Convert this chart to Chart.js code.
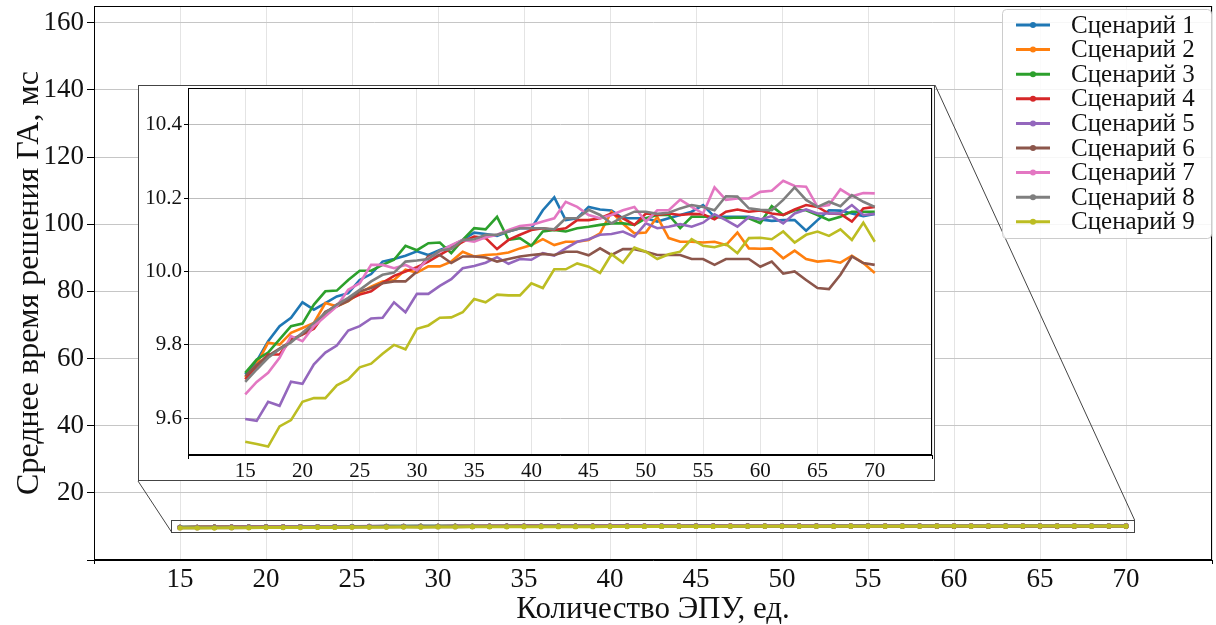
<!DOCTYPE html>
<html>
<head>
<meta charset="utf-8">
<script src="https://cdn.jsdelivr.net/npm/chart.js@4"></script>
<style>
  html, body { margin: 0; padding: 0; background: #fff; }
  #wrap { position: relative; width: 1216px; height: 625px; }
  #main { position: absolute; left: 0; top: 0; }
  #insetBox { position: absolute; left: 138px; top: 85px; width: 797px; height: 396px;
              background: #fff; border: 1px solid #444; box-sizing: border-box; }
  #inset { display: block; }
</style>
</head>
<body>
<div id="wrap">
  <canvas id="main" width="1216" height="625"></canvas>
  <div id="insetBox"><canvas id="inset" width="795" height="394"></canvas></div>
</div>
<script>
// number of power units, 15..70
const epu = [15, 16, 17, 18, 19, 20, 21, 22, 23, 24, 25, 26, 27, 28, 29, 30, 31, 32, 33, 34,
  35, 36, 37, 38, 39, 40, 41, 42, 43, 44, 45, 46, 47, 48, 49, 50, 51, 52, 53, 54,
  55, 56, 57, 58, 59, 60, 61, 62, 63, 64, 65, 66, 67, 68, 69, 70];

const names = ["Сценарий 1", "Сценарий 2", "Сценарий 3", "Сценарий 4", "Сценарий 5",
  "Сценарий 6", "Сценарий 7", "Сценарий 8", "Сценарий 9"];

const colors = ["#1f77b4", "#ff7f0e", "#2ca02c", "#d62728", "#9467bd",
  "#8c564b", "#e377c2", "#7f7f7f", "#bcbd22"];

// mean GA solve time, ms
const s1 = [9.720, 9.756, 9.810, 9.851, 9.874, 9.916, 9.896, 9.914, 9.932, 9.941,
  9.977, 9.993, 10.027, 10.034, 10.043, 10.055, 10.045, 10.059, 10.070, 10.086,
  10.106, 10.102, 10.097, 10.109, 10.118, 10.118, 10.167, 10.202, 10.140, 10.145,
  10.176, 10.169, 10.166, 10.145, 10.145, 10.145, 10.136, 10.145, 10.154, 10.163,
  10.181, 10.149, 10.149, 10.149, 10.149, 10.142, 10.138, 10.140, 10.140, 10.111,
  10.140, 10.167, 10.166, 10.158, 10.151, 10.157];
const s2 = [9.711, 9.747, 9.806, 9.801, 9.833, 9.846, 9.860, 9.914, 9.905, 9.919,
  9.941, 9.959, 9.973, 9.977, 10.005, 9.997, 10.014, 10.014, 10.027, 10.054,
  10.041, 10.045, 10.047, 10.052, 10.063, 10.072, 10.088, 10.072, 10.081, 10.081,
  10.086, 10.104, 10.163, 10.130, 10.104, 10.106, 10.149, 10.091, 10.081, 10.081,
  10.079, 10.081, 10.072, 10.106, 10.063, 10.062, 10.063, 10.036, 10.057, 10.034,
  10.027, 10.030, 10.024, 10.043, 10.023, 9.996];
const s3 = [9.724, 9.760, 9.779, 9.815, 9.851, 9.858, 9.910, 9.946, 9.948, 9.977,
  10.002, 10.002, 10.018, 10.032, 10.070, 10.058, 10.077, 10.079, 10.050, 10.086,
  10.118, 10.115, 10.149, 10.086, 10.091, 10.070, 10.109, 10.113, 10.109, 10.118,
  10.122, 10.127, 10.131, 10.131, 10.127, 10.145, 10.154, 10.154, 10.118, 10.149,
  10.149, 10.149, 10.145, 10.147, 10.145, 10.132, 10.178, 10.154, 10.167, 10.167,
  10.154, 10.140, 10.149, 10.163, 10.163, 10.163];
const s4 = [9.706, 9.742, 9.774, 9.774, 9.815, 9.828, 9.844, 9.887, 9.910, 9.923,
  9.937, 9.946, 9.969, 9.988, 10.000, 10.012, 10.027, 10.045, 10.063, 10.081,
  10.095, 10.091, 10.061, 10.086, 10.100, 10.113, 10.118, 10.113, 10.118, 10.140,
  10.140, 10.145, 10.158, 10.145, 10.127, 10.158, 10.154, 10.158, 10.154, 10.157,
  10.156, 10.142, 10.163, 10.169, 10.163, 10.166, 10.158, 10.154, 10.169, 10.181,
  10.176, 10.158, 10.157, 10.136, 10.172, 10.176];
const s5 = [9.598, 9.593, 9.645, 9.634, 9.700, 9.694, 9.747, 9.779, 9.798, 9.839,
  9.851, 9.872, 9.874, 9.916, 9.889, 9.939, 9.939, 9.961, 9.979, 10.009,
  10.015, 10.024, 10.039, 10.021, 10.034, 10.032, 10.050, 10.043, 10.063, 10.081,
  10.088, 10.100, 10.102, 10.109, 10.095, 10.131, 10.118, 10.122, 10.129, 10.122,
  10.133, 10.156, 10.140, 10.122, 10.148, 10.142, 10.151, 10.131, 10.158, 10.169,
  10.158, 10.158, 10.158, 10.181, 10.154, 10.157];
const s6 = [9.715, 9.745, 9.770, 9.790, 9.810, 9.830, 9.850, 9.890, 9.905, 9.920,
  9.946, 9.955, 9.968, 9.973, 9.973, 10.000, 10.042, 10.045, 10.023, 10.041,
  10.041, 10.038, 10.027, 10.034, 10.041, 10.045, 10.048, 10.045, 10.054, 10.054,
  10.044, 10.063, 10.045, 10.061, 10.061, 10.054, 10.045, 10.045, 10.045, 10.034,
  10.034, 10.018, 10.034, 10.034, 10.034, 10.013, 10.027, 9.994, 10.000, 9.977,
  9.955, 9.952, 9.991, 10.041, 10.023, 10.018];
const s7 = [9.665, 9.699, 9.724, 9.765, 9.824, 9.810, 9.851, 9.878, 9.905, 9.950,
  9.968, 10.018, 10.018, 10.009, 10.018, 10.003, 10.036, 10.054, 10.072, 10.086,
  10.081, 10.093, 10.100, 10.113, 10.124, 10.127, 10.136, 10.145, 10.190, 10.176,
  10.154, 10.145, 10.154, 10.167, 10.176, 10.136, 10.167, 10.167, 10.196, 10.176,
  10.158, 10.229, 10.195, 10.199, 10.199, 10.217, 10.220, 10.247, 10.233, 10.231,
  10.176, 10.181, 10.224, 10.205, 10.214, 10.213];
const s8 = [9.699, 9.733, 9.765, 9.788, 9.807, 9.833, 9.860, 9.887, 9.910, 9.928,
  9.950, 9.973, 9.991, 9.997, 10.027, 10.030, 10.034, 10.057, 10.061, 10.086,
  10.088, 10.100, 10.100, 10.109, 10.118, 10.118, 10.118, 10.115, 10.145, 10.145,
  10.168, 10.154, 10.131, 10.149, 10.163, 10.163, 10.157, 10.160, 10.172, 10.181,
  10.176, 10.167, 10.205, 10.204, 10.172, 10.168, 10.167, 10.195, 10.229, 10.195,
  10.176, 10.190, 10.178, 10.208, 10.190, 10.176];
const s9 = [9.536, 9.530, 9.523, 9.578, 9.595, 9.645, 9.655, 9.655, 9.690, 9.706,
  9.739, 9.749, 9.776, 9.800, 9.788, 9.844, 9.853, 9.874, 9.875, 9.889,
  9.925, 9.916, 9.937, 9.935, 9.935, 9.968, 9.955, 10.006, 10.006, 10.022,
  10.013, 9.996, 10.047, 10.024, 10.065, 10.054, 10.034, 10.047, 10.054, 10.088,
  10.070, 10.066, 10.075, 10.050, 10.091, 10.092, 10.088, 10.109, 10.079, 10.100,
  10.109, 10.097, 10.115, 10.086, 10.133, 10.081];

const series = [s1, s2, s3, s4, s5, s6, s7, s8, s9];

// axis ticks
const xTicks = [10, 15, 20, 25, 30, 35, 40, 45, 50, 55, 60, 65, 70, 75];
const yTicksMain = [0, 20, 40, 60, 80, 100, 120, 140, 160];
const yTicksInset = [9.6, 9.8, 10.0, 10.2, 10.4];

// zoomed window marked on the main plot
const zoomX = [14.5, 70.5];
const zoomY = [8.4, 11.9];

const serif = '"Liberation Serif", "Times New Roman", serif';
Chart.defaults.font.family = serif;
Chart.defaults.color = "#111";

function makeDatasets(lw, pr) {
  return series.map((s, i) => ({
    label: names[i],
    data: epu.map((x, j) => ({ x: x, y: s[j] })),
    borderColor: colors[i],
    backgroundColor: colors[i],
    pointBackgroundColor: colors[i],
    pointBorderWidth: 0,
    pointRadius: pr,
    borderWidth: lw,
    order: series.length - 1 - i,
    fill: false,
  }));
}

const edgeTick = (ctx) => (ctx.tick && (ctx.tick.value === 10 || ctx.tick.value === 75)) ? "#000" : "rgba(0,0,0,0)";

// keep the plot area exactly where the layout padding puts it
const noPadX = (w) => (s) => { s.height = w; s.paddingLeft = 0; s.paddingRight = 0; };
const noPadY = (w) => (s) => { s.width = w; s.paddingTop = 0; s.paddingBottom = 0; };

// full box around a plot area
const frame = {
  id: "frame",
  afterDraw(chart) {
    const { ctx, chartArea: a } = chart;
    ctx.save();
    ctx.strokeStyle = "#000";
    ctx.lineWidth = 1;
    ctx.strokeRect(a.left + 0.5, a.top + 0.5, a.right - a.left - 1, a.bottom - a.top - 1);
    ctx.restore();
  }
};

// zoom rectangle, connector lines and legend on the main chart
const zoomMark = {
  id: "zoomMark",
  afterDatasetsDraw(chart) {
    const { ctx, scales } = chart;
    const x0 = scales.x.getPixelForValue(zoomX[0]);
    const x1 = scales.x.getPixelForValue(zoomX[1]);
    const y0 = scales.y.getPixelForValue(zoomY[1]);
    const y1 = scales.y.getPixelForValue(zoomY[0]);
    const box = document.getElementById("insetBox");
    const bl = box.offsetLeft, bt = box.offsetTop;
    const br = bl + box.offsetWidth, bb = bt + box.offsetHeight;
    ctx.save();
    ctx.strokeStyle = "#444";
    ctx.lineWidth = 1;
    ctx.strokeRect(Math.round(x0) + 0.5, Math.round(y0) + 0.5, Math.round(x1 - x0), Math.round(y1 - y0));
    ctx.beginPath();
    ctx.moveTo(bl, bb);
    ctx.lineTo(x0, y1);
    ctx.moveTo(br, bt);
    ctx.lineTo(x1, y0);
    ctx.stroke();
    ctx.restore();
  },
  afterDraw(chart) {
    const { ctx, chartArea: a } = chart;
    const w = 209, h = 229;
    const left = a.right - 1 - w, top = a.top + 3;
    ctx.save();
    ctx.fillStyle = "rgba(255,255,255,0.85)";
    ctx.strokeStyle = "#cccccc";
    ctx.lineWidth = 1;
    ctx.beginPath();
    ctx.roundRect(left + 0.5, top + 0.5, w, h, 4);
    ctx.fill();
    ctx.stroke();
    ctx.font = "25px " + serif;
    ctx.textBaseline = "middle";
    names.forEach((n, i) => {
      const y = top + 16 + i * 24.6;
      ctx.strokeStyle = colors[i];
      ctx.lineWidth = 3;
      ctx.beginPath();
      ctx.moveTo(left + 14, y);
      ctx.lineTo(left + 48, y);
      ctx.stroke();
      ctx.fillStyle = colors[i];
      ctx.beginPath();
      ctx.arc(left + 31, y, 3, 0, Math.PI * 2);
      ctx.fill();
      ctx.fillStyle = "#111";
      ctx.fillText(n, left + 69, y + 1);
    });
    ctx.restore();
  }
};

new Chart(document.getElementById("main"), {
  type: "line",
  data: { datasets: makeDatasets(3, 2.6) },
  options: {
    responsive: false,
    animation: false,
    layout: { padding: { top: 6, right: 2, left: 0, bottom: 0 } },
    plugins: { legend: { display: false }, tooltip: { enabled: false } },
    scales: {
      x: {
        type: "linear",
        min: 10,
        max: 75,
        afterBuildTicks: (s) => { s.ticks = xTicks.map((v) => ({ value: v })); },
        afterFit: noPadX(65),
        ticks: {
          autoSkip: false,
          maxRotation: 0,
          padding: 0,
          font: { size: 27 },
          color: "#111",
          callback: (v) => (v === 10 || v === 75) ? "" : v,
        },
        grid: { color: "#e4e4e4", tickColor: edgeTick, tickLength: 4 },
        border: { color: "#000", width: 1 },
        title: {
          display: true,
          text: "Количество ЭПУ, ед.",
          font: { size: 31 },
          color: "#111",
          padding: { top: 0, bottom: -3 },
        },
      },
      y: {
        min: 0,
        max: 165,
        afterBuildTicks: (s) => { s.ticks = yTicksMain.map((v) => ({ value: v })); },
        afterFit: noPadY(94),
        ticks: {
          padding: 3,
          font: { size: 27 },
          color: "#111",
          callback: (v) => v === 0 ? "" : v,
        },
        grid: { color: "#c6c6c6", tickColor: "#000", tickLength: 7 },
        border: { color: "#000", width: 1 },
        title: {
          display: true,
          text: "Среднее время решения ГА, мс",
          font: { size: 32 },
          color: "#111",
          padding: { top: 10, bottom: 0 },
        },
      },
    },
  },
  plugins: [frame, zoomMark],
});

new Chart(document.getElementById("inset"), {
  type: "line",
  data: { datasets: makeDatasets(2.6, 0) },
  options: {
    responsive: false,
    animation: false,
    layout: { padding: { top: 2, right: 2, left: 0, bottom: 0 } },
    plugins: { legend: { display: false }, tooltip: { enabled: false } },
    scales: {
      x: {
        type: "linear",
        min: 10,
        max: 75,
        afterBuildTicks: (s) => { s.ticks = xTicks.map((v) => ({ value: v })); },
        afterFit: noPadX(25),
        ticks: {
          autoSkip: false,
          maxRotation: 0,
          padding: 0,
          font: { size: 21 },
          color: "#111",
          callback: (v) => (v === 10 || v === 75) ? "" : v,
        },
        grid: { color: "#e4e4e4", tickColor: edgeTick, tickLength: 4 },
        border: { color: "#000", width: 1 },
      },
      y: {
        min: 9.5,
        max: 10.5,
        afterBuildTicks: (s) => { s.ticks = yTicksInset.map((v) => ({ value: v })); },
        afterFit: noPadY(49),
        ticks: {
          padding: 2,
          font: { size: 21 },
          color: "#111",
          callback: (v) => v.toFixed(1),
        },
        grid: { color: "#bdbdbd", tickColor: "#000", tickLength: 4 },
        border: { color: "#000", width: 1 },
      },
    },
  },
  plugins: [frame],
});
</script>
</body>
</html>
